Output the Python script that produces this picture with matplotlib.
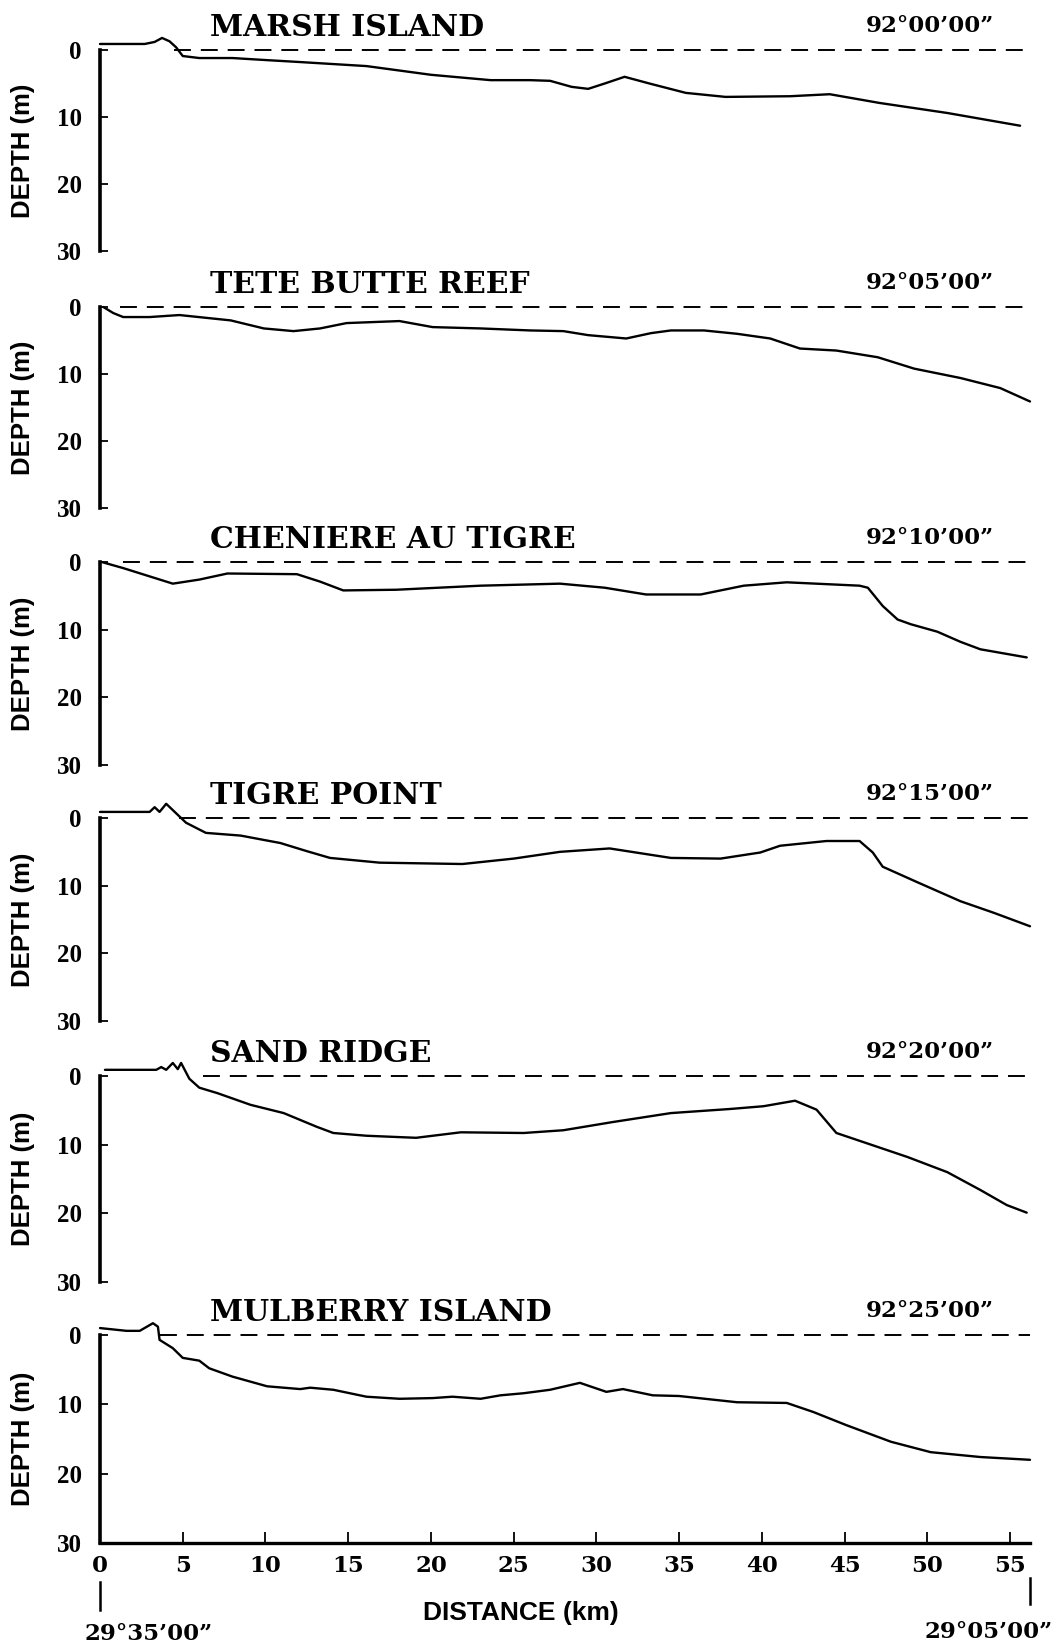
import matplotlib
matplotlib.use("Agg")
import matplotlib.pyplot as plt
from matplotlib.lines import Line2D

# ---- bathymetric profiles: distance offshore (km) vs. depth (m) ----
names = ["MARSH ISLAND", "TETE BUTTE REEF", "CHENIERE AU TIGRE",
         "TIGRE POINT", "SAND RIDGE", "MULBERRY ISLAND"]
longitudes = ["92°00’00”", "92°05’00”", "92°10’00”",
              "92°15’00”", "92°20’00”", "92°25’00”"]

marsh_km = [0, 2.7, 3.3, 3.75, 4.2, 4.6, 5.0, 6.0, 8.0, 10, 12.1, 16.1, 20, 23.6,
            26, 27.2, 28.5, 29.5, 30.5, 31.7, 33.2, 35.4, 37.8, 41.7, 44.1, 47.1,
            51.2, 55.6]
marsh_depth = [-0.9, -0.9, -1.2, -1.8, -1.3, -0.4, 0.9, 1.2, 1.2, 1.5, 1.8, 2.4, 3.7,
               4.5, 4.5, 4.6, 5.5, 5.8, 5.0, 4.0, 5.0, 6.4, 7.0, 6.9, 6.6, 7.9,
               9.4, 11.3]

tete_km = [0.2, 0.8, 1.4, 3.0, 4.8, 7.9, 9.9, 11.7, 13.3, 14.9, 18.1, 20.1, 23, 26,
           28, 29.5, 31.8, 33.3, 34.5, 36.5, 38.5, 40.5, 42.3, 44.5, 47, 49.2, 52,
           54.4, 56.2]
tete_depth = [0, 0.9, 1.5, 1.5, 1.2, 2.0, 3.2, 3.6, 3.2, 2.4, 2.1, 3.0, 3.2, 3.5,
              3.6, 4.2, 4.7, 3.9, 3.5, 3.5, 4.0, 4.7, 6.2, 6.5, 7.5, 9.2, 10.6,
              12.1, 14.1]

cheniere_km = [0.1, 1.4, 4.4, 6.0, 7.7, 11.9, 13.3, 14.7, 17.9, 23, 27.8, 30.5, 33,
               36.3, 38.9, 41.5, 45.9, 46.4, 47.3, 48.2, 49, 50.6, 52, 53.2, 56]
cheniere_depth = [0, 0.9, 3.2, 2.6, 1.7, 1.8, 2.9, 4.2, 4.1, 3.5, 3.2, 3.8, 4.8,
                  4.8, 3.5, 3.0, 3.5, 3.8, 6.5, 8.5, 9.2, 10.3, 11.8, 12.9, 14.1]

tigre_km = [0, 3.0, 3.3, 3.6, 4.0, 4.6, 5.2, 6.4, 8.5, 10.9, 12.5, 13.9, 16.9, 21.9,
            25, 27.8, 30.8, 34.5, 37.5, 39.9, 41.1, 43.9, 45.9, 46.7, 47.3, 49.4,
            52, 54, 56.2]
tigre_depth = [-0.9, -0.9, -1.6, -0.9, -2.1, -0.7, 0.7, 2.2, 2.6, 3.7, 4.9, 5.9,
               6.6, 6.8, 6.0, 5.0, 4.5, 5.9, 6.0, 5.1, 4.1, 3.4, 3.4, 5.1, 7.2,
               9.5, 12.3, 14.0, 16.0]

sand_km = [0.3, 3.4, 3.7, 4.0, 4.4, 4.7, 4.9, 5.4, 6.0, 7.1, 9.1, 11.1, 13.1, 14.1,
           16.1, 19.1, 21.8, 25.6, 28, 31, 34.5, 38.1, 40.1, 42, 43.3, 44.5, 46.1,
           48.8, 51.2, 53.2, 54.8, 56]
sand_depth = [-0.9, -0.9, -1.3, -0.9, -1.9, -1.0, -1.9, 0.4, 1.7, 2.5, 4.2, 5.4,
              7.4, 8.3, 8.7, 9.0, 8.2, 8.3, 7.9, 6.7, 5.4, 4.8, 4.4, 3.6, 4.9,
              8.3, 9.6, 11.8, 14.0, 16.6, 18.8, 19.9]

mulberry_km = [0, 1.6, 2.4, 3.2, 3.5, 3.6, 4.4, 5.0, 6.0, 6.6, 8.0, 10.1, 12.1,
               12.7, 14.1, 16.1, 18.1, 20.1, 21.3, 23, 24.2, 25.6, 27.2, 29, 30.6,
               31.6, 33.4, 35, 38.5, 41.5, 43.1, 45.1, 47.8, 50.2, 53.2, 56.2]
mulberry_depth = [-1.0, -0.6, -0.6, -1.7, -1.2, 0.7, 1.9, 3.3, 3.7, 4.8, 6.0, 7.4,
                  7.8, 7.6, 7.9, 8.9, 9.2, 9.1, 8.9, 9.2, 8.7, 8.4, 7.9, 6.9, 8.2,
                  7.8, 8.7, 8.8, 9.7, 9.8, 11.1, 13.0, 15.4, 16.9, 17.6, 18.0]

profiles = [(marsh_km, marsh_depth), (tete_km, tete_depth),
            (cheniere_km, cheniere_depth), (tigre_km, tigre_depth),
            (sand_km, sand_depth), (mulberry_km, mulberry_depth)]

# start of the sea-level (dashed) line for each profile, km
shore_km = [4.5, 1.2, 1.4, 4.8, 6.2, 3.6]

depth_ticks = [0, 10, 20, 30]
distance_ticks = [0, 5, 10, 15, 20, 25, 30, 35, 40, 45, 50, 55]
x_max = 56.2

# ---- layout (pixels) ----
W, H = 1061, 1650
x_left, x_right = 100, 1030
panel_top = [50, 307, 562, 818, 1076, 1335]      # depth 0
panel_bottom = [251, 508, 765, 1021, 1282, 1543]  # depth 30

serif = "DejaVu Serif"
tickserif = "Liberation Serif"
sans = "Liberation Sans"

plt.rcParams["font.weight"] = "bold"
fig = plt.figure(figsize=(W / 100, H / 100), dpi=100)


def fx(px):
    return px / W


def fy(py):
    return 1 - py / H


for i, (km, depth) in enumerate(profiles):
    y0, y30 = panel_top[i], panel_bottom[i]
    ppm = (y30 - y0) / 30.0
    ytop = y0 - 4 * ppm
    ax = fig.add_axes([fx(x_left), fy(y30), (x_right - x_left) / W, (y30 - ytop) / H])
    ax.set_xlim(0, x_max)
    ax.set_ylim(30, -4)

    ax.plot(km, depth, color="black", lw=1.7, solid_capstyle="round",
            solid_joinstyle="round", clip_on=False)
    ax.plot([shore_km[i], x_max], [0, 0], color="black", lw=1.4,
            linestyle=(0, (8.7, 5.1)))

    for s in ("top", "right"):
        ax.spines[s].set_visible(False)
    ax.spines["left"].set_bounds(0, 30)
    ax.spines["left"].set_linewidth(2.6)
    ax.spines["left"].set_capstyle("projecting")

    ax.set_yticks(depth_ticks)
    ax.set_yticklabels([str(t) for t in depth_ticks])
    ax.tick_params(axis="y", direction="in", length=6, width=1.3, pad=13,
                   labelsize=18)
    for lab in ax.get_yticklabels():
        lab.set_fontfamily(tickserif)
        lab.set_fontweight("bold")

    if i < len(profiles) - 1:
        ax.spines["bottom"].set_visible(False)
        ax.set_xticks([])
    else:
        ax.spines["bottom"].set_linewidth(2.4)
        ax.spines["bottom"].set_capstyle("projecting")
        ax.set_xticks(distance_ticks)
        ax.set_xticklabels([str(t) for t in distance_ticks])
        ax.tick_params(axis="x", direction="in", length=8, width=1.3, pad=9,
                       labelsize=16.5)
        for lab in ax.get_xticklabels():
            lab.set_fontfamily(serif)
            lab.set_fontweight("bold")

    ax.patch.set_alpha(0)

    fig.text(fx(210), fy(y0 - 14), names[i], ha="left", va="baseline",
             family=serif, weight="bold", size=21.5)
    fig.text(fx(994), fy(y0 - 18), longitudes[i], ha="right", va="baseline",
             family=serif, weight="bold", size=16.5)
    fig.text(fx(23), fy((y0 + y30) / 2), "DEPTH (m)", rotation=90,
             ha="center", va="center", family=sans, weight="bold", size=18.5)

# distance axis title and end-point latitudes
fig.text(fx(521), fy(1620), "DISTANCE (km)", ha="center", va="baseline",
         family=sans, weight="bold", size=19)
fig.text(fx(149), fy(1640), "29°35’00”", ha="center", va="baseline",
         family=serif, weight="bold", size=16.5)
fig.text(fx(989), fy(1638), "29°05’00”", ha="center", va="baseline",
         family=serif, weight="bold", size=16.5)
fig.add_artist(Line2D([fx(100), fx(100)], [fy(1582), fy(1610)], color="black",
                      lw=1.8, transform=fig.transFigure))
fig.add_artist(Line2D([fx(1030), fx(1030)], [fy(1578), fy(1604)], color="black",
                      lw=1.8, transform=fig.transFigure))

fig.savefig("out.png", dpi=100, facecolor="white")
